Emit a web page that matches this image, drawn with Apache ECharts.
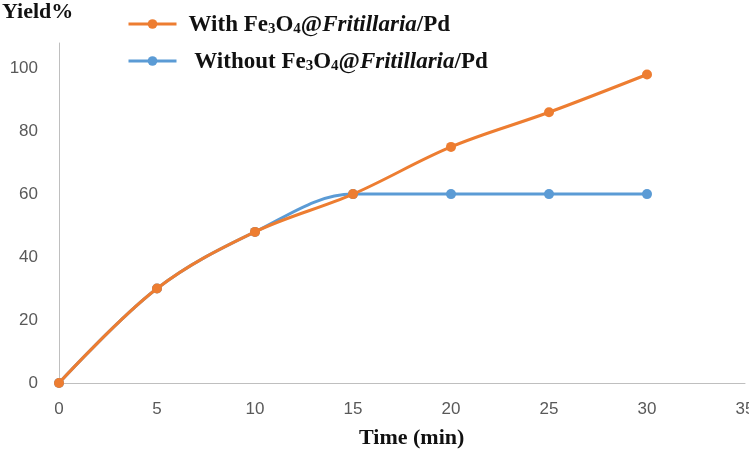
<!DOCTYPE html>
<html><head><meta charset="utf-8">
<script src="https://cdn.jsdelivr.net/npm/echarts@6/dist/echarts.min.js"></script>
<style>html,body{margin:0;padding:0;background:#fff}#c{width:749px;height:456px}</style>
</head><body><div id="c"></div>
<script>
const times = [0, 5, 10, 15, 20, 25, 30];
const withCat = [0, 30, 48, 60, 75, 86, 98];
const withoutCat = [0, 30, 48, 60, 60, 60, 60];
const xTicks = [0, 5, 10, 15, 20, 25, 30, 35];
const yTicks = [0, 20, 40, 60, 80, 100];
const nameWith = 'With Fe3O4@Fritillaria/Pd';
const nameWithout = 'Without Fe3O4@Fritillaria/Pd';

const chart = echarts.init(document.getElementById('c'));
const serif = '"Liberation Serif","Times New Roman",serif';
const fmt = (name) => {
  const pre = name.startsWith('With ') ? 'With' : ' Without';
  return '{b|' + pre + ' Fe}{s|3}{b|O}{s|4}{b|@}{i|Fritillaria}{b|/Pd}';
};
const rich = {
  b: {fontFamily: serif, fontWeight: 'bold', fontSize: 23, color: '#111', lineHeight: 26, verticalAlign: 'bottom'},
  s: {fontFamily: serif, fontWeight: 'bold', fontSize: 15, color: '#111', lineHeight: 26, verticalAlign: 'bottom'},
  i: {fontFamily: serif, fontWeight: 'bold', fontStyle: 'italic', fontSize: 23, color: '#111', lineHeight: 26, verticalAlign: 'bottom'}
};
chart.setOption({
  animation: false,
  grid: {left: 59, right: 4, top: 43, bottom: 73, outerBoundsMode: 'none', containLabel: false},
  legend: {
    orient: 'vertical', left: 122, top: 9, itemGap: 14,
    itemWidth: 48, itemHeight: 12,
    data: [nameWith, nameWithout],
    formatter: fmt,
    lineStyle: {width: 3},
    textStyle: {rich: rich, padding: [0, 0, 0, 7]}
  },
  graphic: [
    {type: 'text', left: 2, top: 1, style: {text: 'Yield%', font: 'bold 22px ' + serif, fill: '#111'}},
    {type: 'text', left: 359, top: 427, style: {text: 'Time (min)', font: 'bold 22px ' + serif, fill: '#111'}}
  ],
  xAxis: {
    type: 'value', min: 0, max: 35, interval: 5,
    axisLine: {lineStyle: {color: '#bfbfbf', width: 1}},
    axisTick: {show: false}, splitLine: {show: false},
    axisLabel: {color: '#595959', fontSize: 17, fontFamily: 'Liberation Sans, sans-serif', margin: 18,
      formatter: v => xTicks.includes(v) ? String(v) : ''}
  },
  yAxis: {
    type: 'value', min: 0, max: 108, interval: 20,
    axisLine: {show: true, lineStyle: {color: '#bfbfbf', width: 1}},
    axisTick: {show: false}, splitLine: {show: false},
    axisLabel: {color: '#595959', fontSize: 17, fontFamily: 'Liberation Sans, sans-serif', margin: 21,
      showMaxLabel: false,
      formatter: v => yTicks.includes(v) ? String(v) : ''}
  },
  series: [
    {name: nameWithout, type: 'line', smooth: 0.35, data: times.map((t, i) => [t, withoutCat[i]]),
      symbol: 'circle', symbolSize: 10, color: '#5B9BD5', lineStyle: {width: 3, color: '#5B9BD5'}, z: 2},
    {name: nameWith, type: 'line', smooth: 0.35, data: times.map((t, i) => [t, withCat[i]]),
      symbol: 'circle', symbolSize: 10, color: '#ED7D31', lineStyle: {width: 3, color: '#ED7D31'}, z: 3}
  ]
});
</script></body></html>
